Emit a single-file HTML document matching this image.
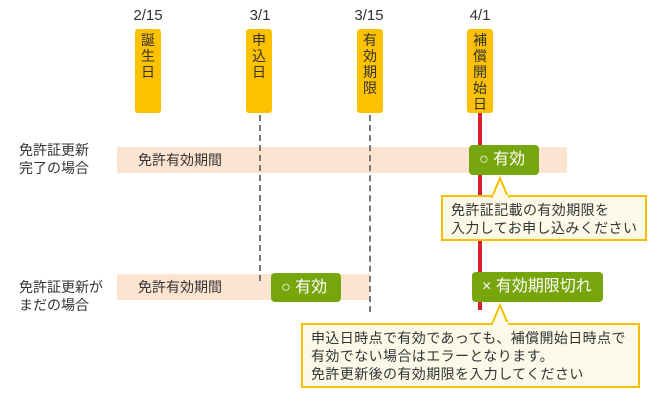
<!DOCTYPE html>
<html><head><meta charset="utf-8"><style>
body{margin:0;width:650px;height:400px;background:#fff;position:relative;overflow:hidden;font-family:"Liberation Sans","Noto Sans CJK JP",sans-serif;color:#333;font-size:14px}
.a{position:absolute}
.d{font-size:15px;text-align:center;width:50px;top:7px;color:#333}
.y{background:#fcc200;border-radius:3px;width:26px;top:29px;height:84px;text-align:center;font-size:14px;line-height:16px;padding-top:3px;box-sizing:border-box;color:#333}
.dash{border-left:2px dashed #777;width:0}
.band{background:#fde4d0}
.b{background:#77a50c;color:#fff;border-radius:4px;font-size:16px;line-height:29px;padding-left:10px;box-sizing:border-box;white-space:nowrap}
.tip{background:#fbfae9;border:2px solid #f4c000;box-sizing:border-box;font-size:14px;letter-spacing:0.4px;line-height:18px;padding:4px 0 0 8px;white-space:nowrap}
.lab{font-size:14px;line-height:18px;left:19px}
</style></head><body>
<div class="a d" style="left:123px">2/15</div>
<div class="a d" style="left:235px">3/1</div>
<div class="a d" style="left:344px">3/15</div>
<div class="a d" style="left:455px">4/1</div>
<div class="a y" style="left:135px">誕<br>生<br>日</div>
<div class="a y" style="left:246px">申<br>込<br>日</div>
<div class="a y" style="left:357px">有<br>効<br>期<br>限</div>
<div class="a y" style="left:467px">補<br>償<br>開<br>始<br>日</div>

<div class="a band" style="left:117px;top:147px;width:450px;height:26px"></div>
<div class="a band" style="left:117px;top:274px;width:253px;height:26px"></div>
<div class="a dash" style="left:259px;top:115px;height:166px"></div>
<div class="a dash" style="left:369px;top:115px;height:197px"></div>
<div class="a" style="left:478px;top:113px;width:4px;height:197px;background:#d9202a"></div>

<div class="a lab" style="top:141px">免許証更新<br>完了の場合</div>
<div class="a lab" style="top:278px">免許証更新が<br>まだの場合</div>
<div class="a" style="left:138px;top:150px">免許有効期間</div>
<div class="a" style="left:138px;top:277px">免許有効期間</div>

<div class="a b" style="left:469px;top:145px;width:70px;height:30px">○ 有効</div>
<div class="a b" style="left:271px;top:273px;width:70px;height:29px">○ 有効</div>
<div class="a b" style="left:472px;top:272px;width:131px;height:30px">× 有効期限切れ</div>

<div class="a tip" style="left:441px;top:195px;width:206px;height:46px">免許証記載の有効期限を<br>入力してお申し込みください</div>
<svg class="a" style="left:490px;top:176px" width="22" height="22"><polygon points="2,21 10,2 18,21" fill="#fbfae9" stroke="#f4c000" stroke-width="2"/><rect x="3" y="19" width="15" height="4" fill="#fbfae9"/></svg>
<div class="a tip" style="left:301px;top:323px;width:339px;height:65px">申込日時点で有効であっても、補償開始日時点で<br>有効でない場合はエラーとなります。<br>免許更新後の有効期限を入力してください</div>
<svg class="a" style="left:490px;top:303px" width="22" height="22"><polygon points="2,21 10,2 18,21" fill="#fbfae9" stroke="#f4c000" stroke-width="2"/><rect x="3" y="19" width="15" height="4" fill="#fbfae9"/></svg>
</body></html>
